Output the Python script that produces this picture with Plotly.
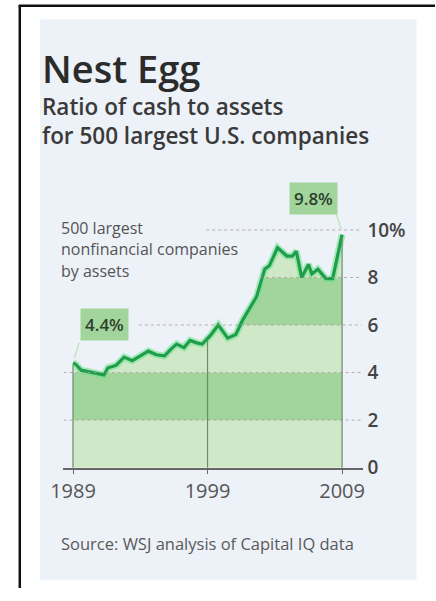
import numpy as np
import plotly.graph_objects as go

# Ratio of cash to assets, 500 largest U.S. nonfinancial companies (%)
years = [1989.0, 1989.2, 1989.6, 1990.1, 1990.5, 1991.0, 1991.3, 1991.6, 1992.2, 1992.8,
         1993.4, 1994.0, 1994.6, 1995.2, 1995.8, 1996.3, 1996.7, 1997.25, 1997.7, 1998.2,
         1998.6, 1999.2, 1999.8, 2000.5, 2001.1, 2001.6, 2002.2, 2002.65, 2003.25, 2003.6,
         2004.2, 2004.9, 2005.3, 2005.6, 2006.0, 2006.5, 2006.75, 2007.2, 2007.8, 2008.3,
         2009.0]
cash_ratio = [4.4, 4.35, 4.1, 4.05, 4.0, 3.95, 3.9, 4.2, 4.3, 4.65,
              4.5, 4.7, 4.9, 4.75, 4.7, 5.0, 5.2, 5.05, 5.35, 5.25,
              5.2, 5.55, 6.0, 5.45, 5.6, 6.2, 6.8, 7.2, 8.35, 8.5,
              9.25, 8.9, 8.9, 9.1, 8.0, 8.55, 8.15, 8.35, 7.95, 7.95,
              9.8]

y_ticks = [0, 2, 4, 6, 8, 10]
y_tick_text = ["0", "2", "4", "6", "8", "10%"]
x_ticks = [1989, 1999, 2009]
x_tick_text = ["1989", "1999", "2009"]

band_tops = [2, 4, 6, 8, 10, 12]
band_colors = ["#cfe8c8", "#a2d59b", "#cfe8c8", "#a2d59b", "#cfe8c8", "#a2d59b"]

W, H = 436, 601
FONT = "Open Sans"


def px(x):
    return x / W


def py(y):
    return 1 - y / H


x = np.array(years)
v = np.array(cash_ratio)

fig = go.Figure()

# shaded area under the line, striped in 2-point bands
for i, (top, col) in enumerate(zip(band_tops, band_colors)):
    fig.add_trace(go.Scatter(
        x=x, y=np.minimum(v, top), mode="lines",
        line=dict(width=0, color=col), fillcolor=col,
        fill="tozeroy" if i == 0 else "tonexty",
        hoverinfo="skip", showlegend=False))

# glow under the line, then the line itself
fig.add_trace(go.Scatter(x=x, y=v, mode="lines",
                         line=dict(color="rgba(110,225,140,0.55)", width=7),
                         hoverinfo="skip", showlegend=False))
fig.add_trace(go.Scatter(x=x, y=v, mode="lines",
                         line=dict(color="#1e9e4a", width=3.2),
                         showlegend=False))

shapes = []
# pale panel and black frame edges
shapes.append(dict(type="rect", xref="paper", yref="paper", x0=px(28), x1=px(417),
                   y0=py(593), y1=py(20), fillcolor="#edf1f8", line=dict(width=0),
                   layer="below"))
shapes.append(dict(type="line", xref="paper", yref="paper", x0=px(7), x1=px(7),
                   y0=py(5), y1=0, line=dict(color="#111", width=2.5)))
shapes.append(dict(type="line", xref="paper", yref="paper", x0=px(6), x1=1,
                   y0=py(6), y1=py(6), line=dict(color="#111", width=2.5)))

# dotted reference lines running out to the tick labels
grid_starts = {2: 1988.3, 4: 1988.3, 6: 1993.9, 8: 2002.9, 10: 1998.9}
for level, start in grid_starts.items():
    shapes.append(dict(type="line", xref="x", yref="y", x0=start, x1=2010.45,
                       y0=level, y1=level,
                       line=dict(color="rgba(170,150,155,0.75)", width=1, dash="dot"),
                       layer="above"))

# vertical markers at the labelled years, up to the line
for yr in x_ticks:
    shapes.append(dict(type="line", xref="x", yref="y", x0=yr, x1=yr, y0=0,
                       y1=float(np.interp(yr, x, v)) - 0.1,
                       line=dict(color="#6b8c68", width=1.2), layer="above"))

# leader lines from the value boxes to the endpoints
shapes.append(dict(type="line", xref="x", yref="y", x0=1989.45, y0=5.25,
                   x1=1989.1, y1=cash_ratio[0] + 0.2,
                   line=dict(color="#c4e3bf", width=1.5)))
shapes.append(dict(type="line", xref="x", yref="y", x0=2008.5, y0=10.78,
                   x1=2008.93, y1=cash_ratio[-1] + 0.25,
                   line=dict(color="#c4e3bf", width=1.5)))

annotations = [
    dict(text="Nest Egg", x=px(28), y=py(69), xref="paper", yref="paper",
         xanchor="left", yanchor="middle", showarrow=False,
         font=dict(family=FONT, size=38, color="#2b2b2b", weight=600)),
    dict(text="Ratio of cash to assets", x=px(28), y=py(109), xref="paper", yref="paper",
         xanchor="left", yanchor="middle", showarrow=False,
         font=dict(family=FONT, size=22.5, color="#3a3a3a", weight=600)),
    dict(text="for 500 largest U.S. companies", x=px(28), y=py(138), xref="paper",
         yref="paper", xanchor="left", yanchor="middle", showarrow=False,
         font=dict(family=FONT, size=22.5, color="#3a3a3a", weight=600)),
    dict(text="Source: WSJ analysis of Capital IQ data", x=px(48), y=py(556),
         xref="paper", yref="paper", xanchor="left", yanchor="middle", showarrow=False,
         font=dict(family=FONT, size=16.5, color="#5a5a5a")),
    dict(text=f"{cash_ratio[0]}%", x=px(95), y=py(332), xref="paper", yref="paper",
         xanchor="center", yanchor="middle", showarrow=False, bgcolor="#a2d59b",
         borderpad=4, font=dict(family=FONT, size=17, color="#2e3f2e", weight=600)),
    dict(text=f"{cash_ratio[-1]}%", x=px(310), y=py(203), xref="paper", yref="paper",
         xanchor="center", yanchor="middle", showarrow=False, bgcolor="#a2d59b",
         borderpad=4, font=dict(family=FONT, size=17, color="#2e3f2e", weight=600)),
]
for text, yy in [("500 largest", 233), ("nonfinancial companies", 255), ("by assets", 277)]:
    annotations.append(dict(text=text, x=px(48), y=py(yy), xref="paper", yref="paper",
                            xanchor="left", yanchor="middle", showarrow=False,
                            font=dict(family=FONT, size=16, color="#555")))

fig.update_layout(
    width=W, height=H, margin=dict(l=0, r=0, t=0, b=0),
    paper_bgcolor="white", plot_bgcolor="rgba(0,0,0,0)",
    shapes=shapes, annotations=annotations, showlegend=False,
    xaxis=dict(domain=[px(52), px(362)], range=[1988.281, 2010.583],
               tickvals=x_ticks, ticktext=x_tick_text, showgrid=False, zeroline=False,
               showline=True, linecolor="#666", linewidth=1.5,
               ticks="outside", ticklen=5, tickcolor="#666", tickwidth=1.2,
               tickfont=dict(family=FONT, size=20, color="#555")),
    yaxis=dict(domain=[py(478), py(215)], range=[0, 10.823], side="right",
               tickvals=y_ticks, ticktext=y_tick_text, showgrid=False, zeroline=False,
               showline=False, ticks="", ticklabelstandoff=3,
               tickfont=dict(family=FONT, size=19, color="#444", weight=600)),
)

fig.write_html("out.html")
